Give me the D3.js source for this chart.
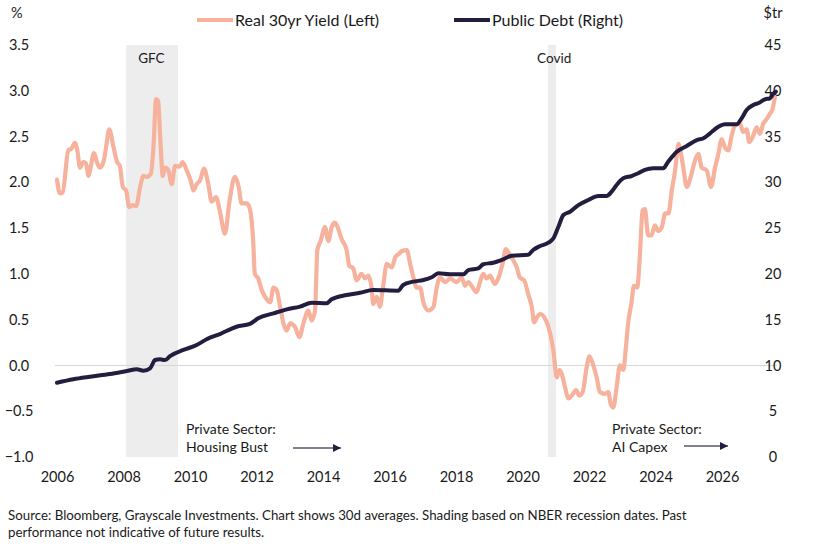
<!DOCTYPE html>
<html><head><meta charset="utf-8">
<script src="https://cdn.jsdelivr.net/npm/d3@7"></script>
<style>
html,body{margin:0;padding:0;background:#fff;}
svg text{font-family:Lato,"Open Sans",sans-serif;fill:#1a1a1a;}
</style></head>
<body>
<svg id="chart" width="830" height="544"></svg>
<script>
// ---- data ----
const yearTicks = [2006,2008,2010,2012,2014,2016,2018,2020,2022,2024,2026];
const leftTicks = [-1.0,-0.5,0.0,0.5,1.0,1.5,2.0,2.5,3.0,3.5];
const rightTicks = [0,5,10,15,20,25,30,35,40,45];
const recessions = [{name:"GFC", start:2008.08, end:2009.64}, {name:"Covid", start:2020.77, end:2021.01}];

const yieldYears = [2006.0,2006.09,2006.17,2006.34,2006.44,2006.54,2006.61,2006.69,2006.79,2006.87,2006.95,2007.01,2007.11,2007.21,2007.29,2007.41,2007.49,2007.57,2007.69,2007.81,2007.89,2007.98,2008.08,2008.17,2008.28,2008.38,2008.50,2008.60,2008.70,2008.82,2008.90,2008.98,2009.04,2009.12,2009.18,2009.25,2009.35,2009.45,2009.55,2009.68,2009.78,2009.90,2010.02,2010.10,2010.20,2010.30,2010.42,2010.55,2010.65,2010.78,2010.90,2011.05,2011.19,2011.35,2011.47,2011.55,2011.71,2011.80,2011.90,2011.95,2012.05,2012.16,2012.26,2012.41,2012.51,2012.61,2012.71,2012.81,2012.91,2013.01,2013.16,2013.29,2013.41,2013.56,2013.66,2013.76,2013.83,2013.93,2014.06,2014.16,2014.26,2014.36,2014.46,2014.56,2014.71,2014.79,2014.91,2015.01,2015.16,2015.26,2015.36,2015.46,2015.51,2015.62,2015.71,2015.81,2015.92,2016.07,2016.17,2016.29,2016.37,2016.52,2016.62,2016.72,2016.82,2016.92,2017.02,2017.17,2017.32,2017.42,2017.52,2017.67,2017.82,2018.02,2018.17,2018.27,2018.37,2018.52,2018.62,2018.72,2018.82,2018.92,2019.02,2019.17,2019.27,2019.40,2019.50,2019.60,2019.72,2019.83,2019.92,2020.05,2020.17,2020.28,2020.35,2020.44,2020.53,2020.68,2020.78,2020.93,2021.03,2021.11,2021.18,2021.28,2021.38,2021.48,2021.61,2021.71,2021.81,2021.93,2022.01,2022.13,2022.23,2022.33,2022.48,2022.58,2022.65,2022.73,2022.83,2022.93,2023.03,2023.11,2023.18,2023.28,2023.35,2023.45,2023.53,2023.61,2023.68,2023.78,2023.88,2023.98,2024.08,2024.19,2024.29,2024.39,2024.49,2024.59,2024.69,2024.82,2024.94,2025.06,2025.19,2025.29,2025.39,2025.54,2025.67,2025.79,2025.89,2025.99,2026.09,2026.19,2026.29,2026.39,2026.54,2026.64,2026.74,2026.82,2026.94,2027.04,2027.14,2027.24,2027.34,2027.44,2027.52,2027.59];
const yieldValues = [2.03,1.88,1.89,2.35,2.37,2.43,2.35,2.16,2.22,2.21,2.07,2.16,2.32,2.21,2.16,2.24,2.42,2.58,2.40,2.22,2.18,1.95,1.91,1.73,1.75,1.74,1.95,2.07,2.06,2.09,2.38,2.91,2.89,2.38,2.07,2.16,2.13,1.98,2.18,2.17,2.22,2.13,2.02,1.91,1.98,2.02,2.15,1.98,1.79,1.84,1.68,1.44,1.80,2.06,1.94,1.77,1.77,1.71,1.36,1.00,0.95,0.82,0.75,0.69,0.85,0.82,0.64,0.46,0.38,0.46,0.42,0.31,0.46,0.60,0.49,0.60,1.26,1.36,1.51,1.36,1.51,1.56,1.49,1.38,1.26,1.09,1.06,0.93,1.00,0.95,0.98,0.85,0.67,0.75,0.64,0.87,1.11,1.07,1.18,1.22,1.25,1.26,1.11,0.96,0.85,0.85,0.69,0.60,0.64,0.85,0.96,0.91,0.95,0.91,0.96,0.87,0.91,0.84,0.80,0.91,1.00,0.95,0.98,0.89,0.95,1.11,1.27,1.22,1.15,1.07,0.96,0.93,0.78,0.64,0.47,0.53,0.56,0.51,0.42,0.16,-0.13,-0.05,-0.09,-0.24,-0.36,-0.33,-0.27,-0.33,-0.29,-0.02,0.10,0.00,-0.13,-0.29,-0.31,-0.29,-0.42,-0.46,-0.24,0.00,-0.05,0.20,0.47,0.69,0.87,0.85,1.20,1.69,1.71,1.42,1.42,1.53,1.47,1.51,1.66,1.66,1.91,2.13,2.42,2.20,1.95,2.06,2.24,2.31,2.16,2.13,1.95,2.16,2.31,2.47,2.38,2.35,2.51,2.62,2.64,2.55,2.58,2.44,2.51,2.60,2.53,2.64,2.69,2.75,2.80,2.93];

const debtYears = [2006.0,2006.49,2006.99,2007.59,2008.10,2008.40,2008.60,2008.80,2008.95,2009.10,2009.25,2009.40,2009.80,2010.20,2010.50,2010.90,2011.40,2011.80,2012.05,2012.51,2012.91,2013.31,2013.66,2014.11,2014.26,2014.71,2015.11,2015.51,2016.26,2016.41,2016.71,2017.02,2017.27,2017.47,2017.82,2018.22,2018.37,2018.67,2018.82,2019.12,2019.42,2019.68,2020.17,2020.32,2020.53,2020.78,2020.93,2021.08,2021.23,2021.43,2021.68,2021.98,2022.28,2022.53,2022.68,2022.83,2023.03,2023.28,2023.48,2023.68,2023.93,2024.23,2024.38,2024.64,2024.94,2025.24,2025.44,2025.64,2025.89,2026.09,2026.44,2026.59,2026.74,2026.94,2027.12,2027.29,2027.44,2027.54,2027.62];
const debtValues = [8.11,8.49,8.77,9.07,9.39,9.58,9.43,9.69,10.59,10.67,10.59,11.03,11.69,12.23,12.86,13.43,14.23,14.53,15.15,15.69,16.13,16.42,16.85,16.79,17.22,17.69,17.94,18.24,18.16,18.79,19.15,19.33,19.63,20.06,19.95,19.95,20.42,20.61,21.05,21.22,21.59,21.99,22.09,22.61,23.04,23.41,23.89,25.15,26.43,26.79,27.52,28.07,28.51,28.51,28.98,29.71,30.44,30.69,30.99,31.35,31.53,31.53,32.25,33.34,33.97,34.62,34.81,35.35,36.07,36.34,36.34,36.99,37.90,38.44,38.70,39.07,39.18,39.65,39.90];

// ---- drawing ----
const svg = d3.select("#chart");
const x = d3.scaleLinear().domain([2006, 2026]).range([57, 722]);
const yL = d3.scaleLinear().domain([-1, 3.5]).range([457, 45]);
const yR = d3.scaleLinear().domain([0, 45]).range([457, 45]);

const salmon = "#F6B29C", navy = "#231D3F";

// recession shading
svg.selectAll("rect.rec").data(recessions).join("rect")
  .attr("class","rec")
  .attr("x", d => x(d.start)).attr("width", d => x(d.end) - x(d.start))
  .attr("y", yL(3.5)).attr("height", yL(-1) - yL(3.5))
  .attr("fill", "#EDEDED");
svg.selectAll("text.rec").data(recessions).join("text")
  .attr("class","rec")
  .attr("x", d => d.name === "GFC" ? x(d.start) + 12 : x(d.start) - 11)
  .attr("y", 63).attr("font-size", 13.5).text(d => d.name);

// zero line
svg.append("line").attr("x1", 55).attr("x2", 777)
  .attr("y1", yL(0)).attr("y2", yL(0)).attr("stroke", "#D6D6D6").attr("stroke-width", 1);

// axes (labels only)
const gL = svg.append("g").attr("transform", "translate(32,0)")
  .call(d3.axisLeft(yL).tickValues(leftTicks).tickFormat(d3.format(".1f")).tickSize(0).tickPadding(2));
gL.select(".domain").remove();
gL.selectAll("text").attr("font-size", 14.5).attr("text-anchor","middle").attr("x", -13).attr("fill","#1a1a1a");

const gR = svg.append("g").attr("transform", "translate(773,0)")
  .call(d3.axisRight(yR).tickValues(rightTicks).tickFormat(d3.format("d")).tickSize(0).tickPadding(0));
gR.select(".domain").remove();
gR.selectAll("text").attr("font-size", 14.5).attr("text-anchor","middle").attr("x", 0).attr("fill","#1a1a1a");

const gX = svg.append("g").attr("transform", "translate(0,468)")
  .call(d3.axisBottom(x).tickValues(yearTicks).tickFormat(d3.format("d")).tickSize(0).tickPadding(4));
gX.select(".domain").remove();
gX.selectAll("text").attr("font-size", 14.5).attr("fill","#1a1a1a");
svg.selectAll(".tick text").attr("font-family", "Lato, sans-serif");

svg.append("text").attr("x", 11).attr("y", 18).attr("font-size", 14.5).text("%");
svg.append("text").attr("x", 773).attr("y", 18).attr("font-size", 14.5).attr("text-anchor","middle").text("$tr");

// lines
const yieldData = yieldYears.map((t,i) => ({t, v: yieldValues[i]}));
const debtData = debtYears.map((t,i) => ({t, v: debtValues[i]}));
svg.append("path").datum(yieldData)
  .attr("d", d3.line().x(d => x(d.t)).y(d => yL(d.v)).curve(d3.curveMonotoneX))
  .attr("fill","none").attr("stroke", salmon).attr("stroke-width", 4.2).attr("stroke-linejoin","round").attr("stroke-linecap","round");
svg.append("path").datum(debtData)
  .attr("d", d3.line().x(d => x(d.t)).y(d => yR(d.v)).curve(d3.curveMonotoneX))
  .attr("fill","none").attr("stroke", navy).attr("stroke-width", 4).attr("stroke-linejoin","round").attr("stroke-linecap","round");

// legend
const legend = [{label:"Real 30yr Yield (Left)", color: salmon, x: 197}, {label:"Public Debt (Right)", color: navy, x: 454}];
const lg = svg.append("g");
legend.forEach(l => {
  lg.append("line").attr("x1", l.x).attr("x2", l.x + 36).attr("y1", 20).attr("y2", 20)
    .attr("stroke", l.color).attr("stroke-width", 4);
  lg.append("text").attr("x", l.x + 38).attr("y", 25.5).attr("font-size", 16).text(l.label);
});

// annotations
svg.append("defs").append("marker").attr("id","arr").attr("viewBox","0 0 10 10")
  .attr("refX", 10).attr("refY", 5).attr("markerWidth", 8).attr("markerHeight", 8)
  .attr("markerUnits","userSpaceOnUse").attr("orient","auto")
  .append("path").attr("d","M0,0L10,5L0,10Z").attr("fill", navy);
const notes = [
  {lines:["Private Sector:","Housing Bust"], x: 186, ax1: 293, ax2: 341, ay: 448},
  {lines:["Private Sector:","AI Capex"], x: 612, ax1: 684, ax2: 728, ay: 446}
];
notes.forEach(n => {
  n.lines.forEach((s,i) => svg.append("text").attr("x", n.x).attr("y", 434 + i*18).attr("font-size", 14).text(s));
  svg.append("line").attr("x1", n.ax1).attr("x2", n.ax2).attr("y1", n.ay).attr("y2", n.ay)
    .attr("stroke", "#5a5670").attr("stroke-width", 1.3).attr("marker-end","url(#arr)");
});

// source
svg.append("text").attr("x", 8).attr("y", 520).attr("font-size", 13.3)
  .text("Source: Bloomberg, Grayscale Investments. Chart shows 30d averages. Shading based on NBER recession dates. Past");
svg.append("text").attr("x", 8).attr("y", 537).attr("font-size", 13.3)
  .text("performance not indicative of future results.");
</script>
</body></html>
